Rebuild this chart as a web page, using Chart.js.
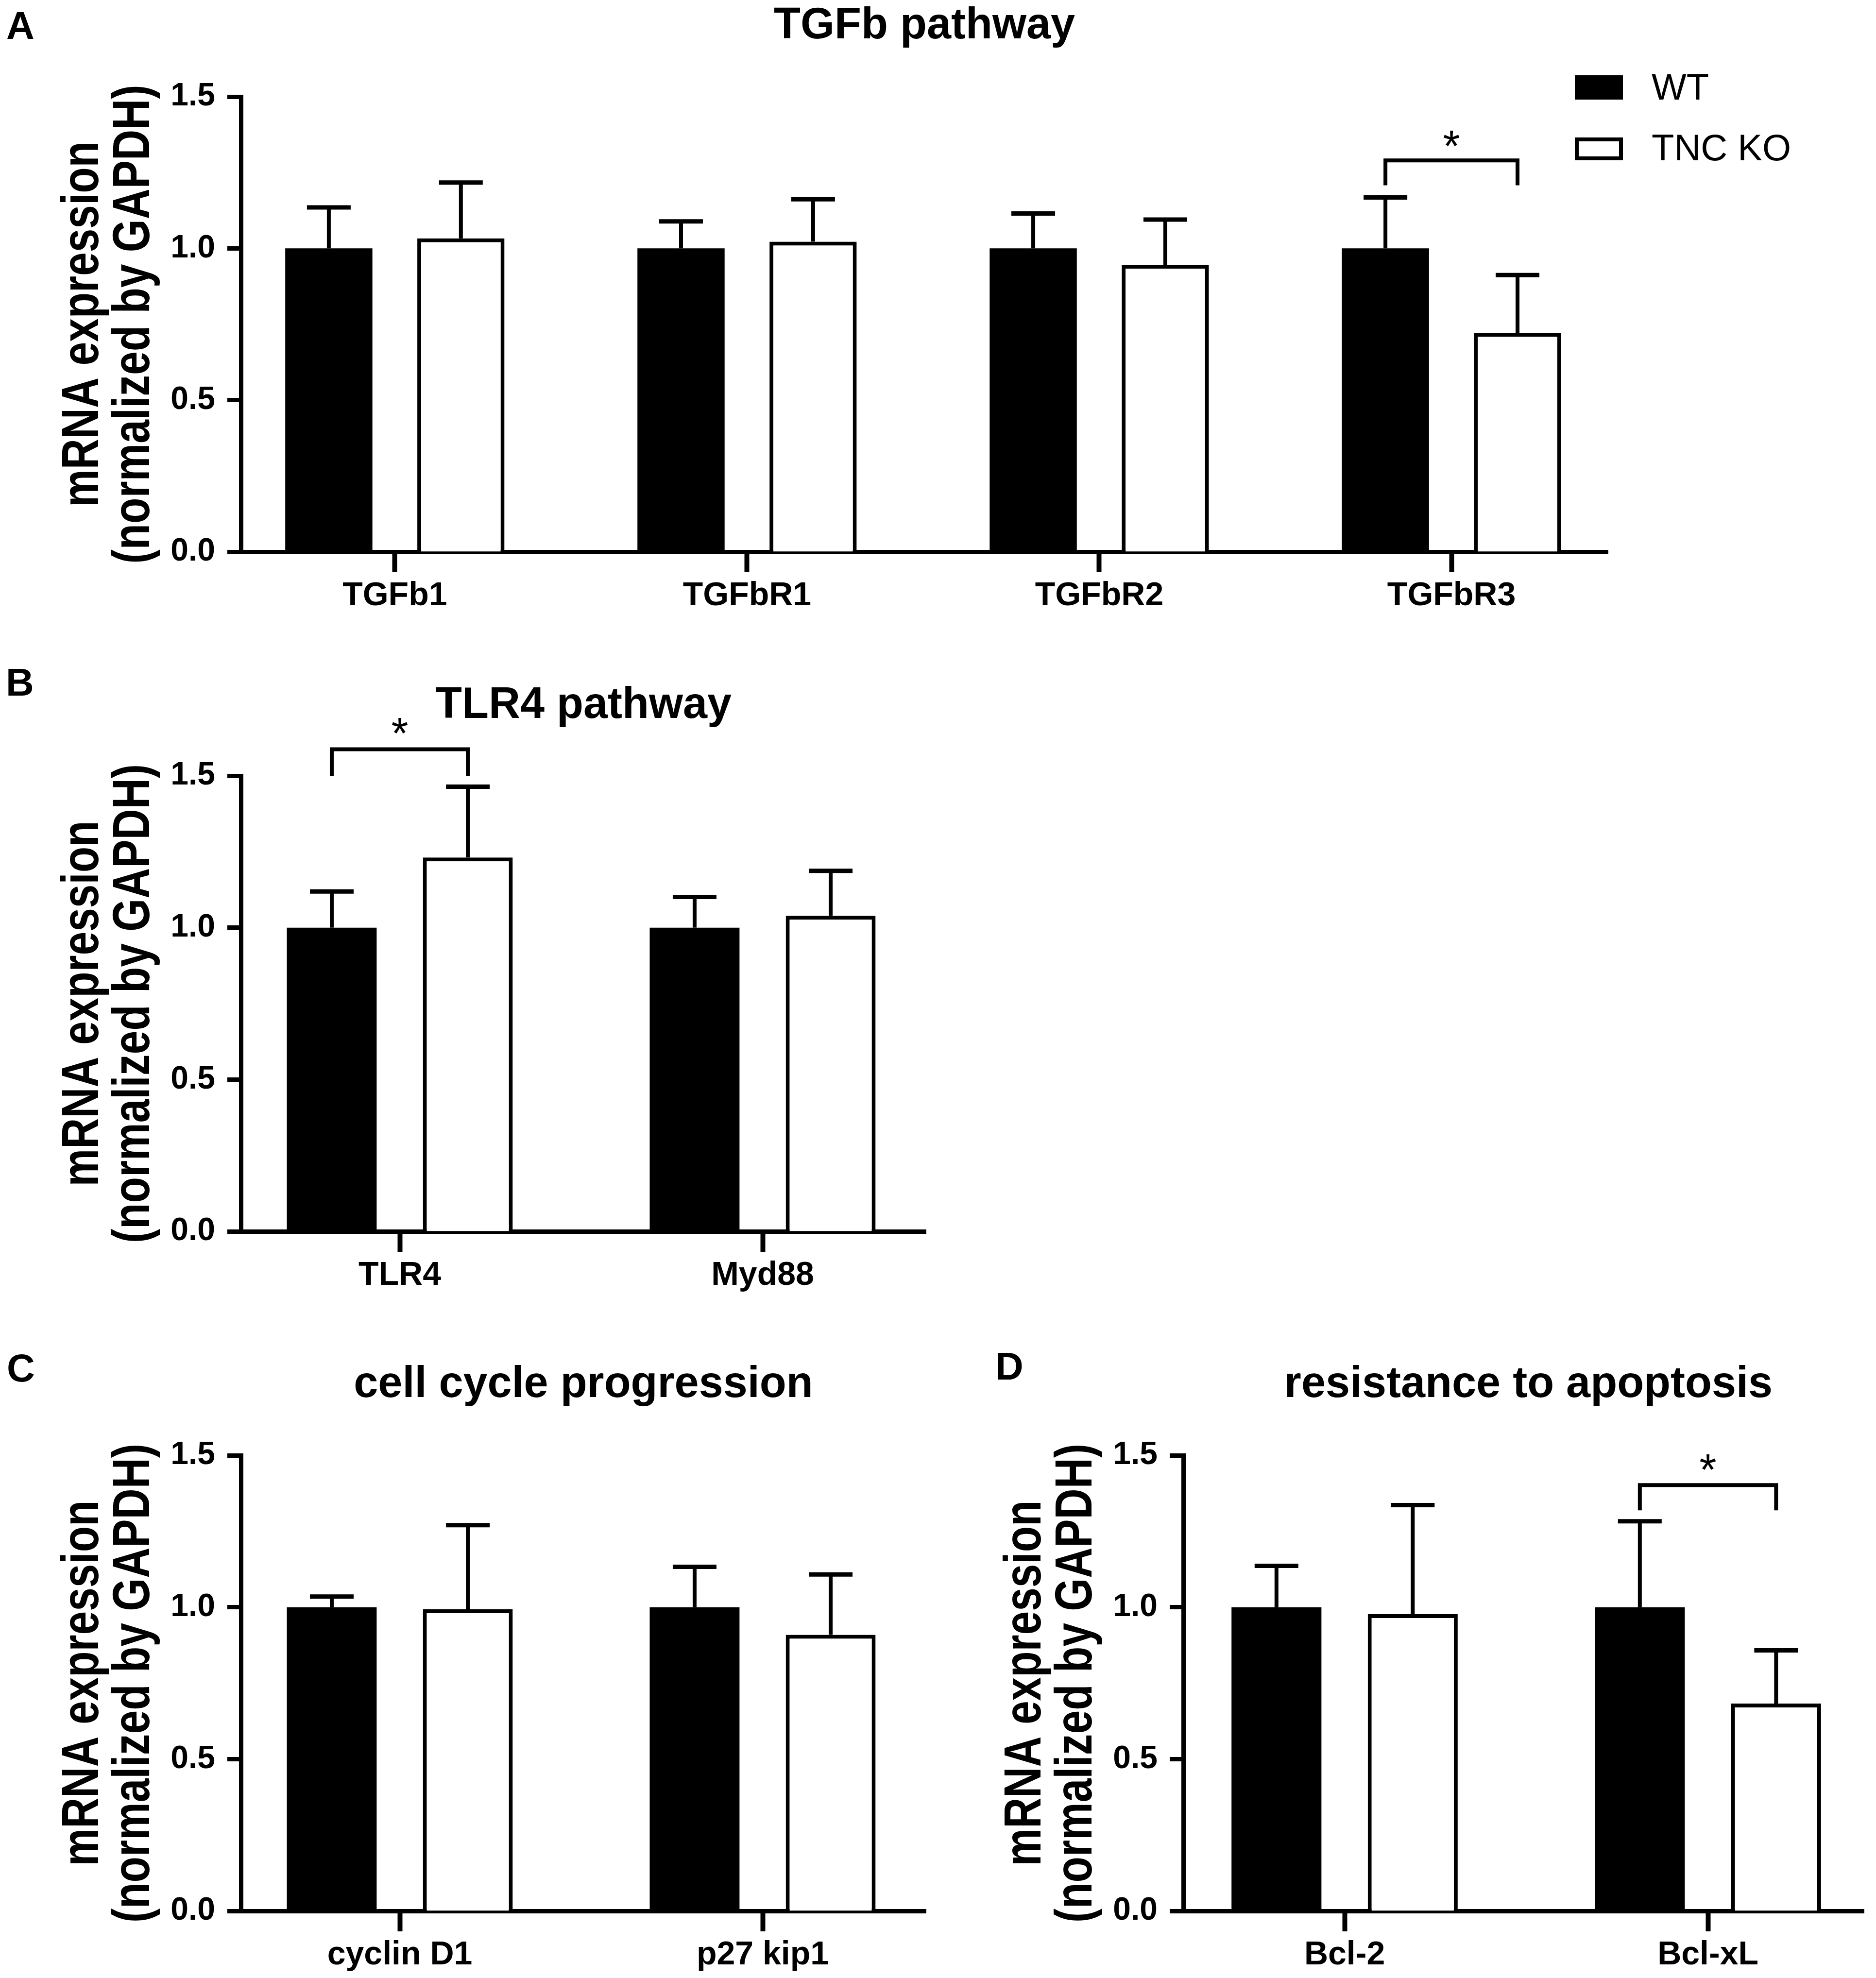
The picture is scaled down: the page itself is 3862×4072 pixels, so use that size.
<!DOCTYPE html>
<html>
<head>
<meta charset="utf-8">
<script src="https://cdn.jsdelivr.net/npm/chart.js@4.4.1/dist/chart.umd.min.js"></script>
<style>
  html, body { margin: 0; padding: 0; background: #fff; }
  #fig { position: relative; width: 3862px; height: 4072px; background: #fff; overflow: hidden; }
  #fig canvas { position: absolute; }
</style>
</head>
<body>
<div id="fig">
  <canvas id="cA" width="3862" height="1300" style="left:0;top:0;width:3862px;height:1300px"></canvas>
  <canvas id="cB" width="1931" height="1400" style="left:0;top:1300px;width:1931px;height:1400px"></canvas>
  <canvas id="cC" width="1931" height="1372" style="left:0;top:2700px;width:1931px;height:1372px"></canvas>
  <canvas id="cD" width="1931" height="1372" style="left:1931px;top:2700px;width:1931px;height:1372px"></canvas>
</div>
<script>
// ---------------- data ----------------
const seriesNames = ['WT', 'TNC KO'];
const yTitleLines = ['mRNA expression', '(normalized by GAPDH)'];
const yTickValues = [0, 0.5, 1.0, 1.5];

const tgfTitle = 'TGFb pathway';
const tgfCategories = ['TGFb1', 'TGFbR1', 'TGFbR2', 'TGFbR3'];
const tgfWT = [1.0, 1.0, 1.0, 1.0];
const tgfWTErr = [0.135, 0.089, 0.115, 0.168];
const tgfKO = [1.033, 1.022, 0.946, 0.721];
const tgfKOErr = [0.184, 0.140, 0.149, 0.191];

const tlrTitle = 'TLR4 pathway';
const tlrCategories = ['TLR4', 'Myd88'];
const tlrWT = [1.0, 1.0];
const tlrWTErr = [0.119, 0.101];
const tlrKO = [1.231, 1.039];
const tlrKOErr = [0.233, 0.148];

const cellTitle = 'cell cycle progression';
const cellCategories = ['cyclin D1', 'p27 kip1'];
const cellWT = [1.0, 1.0];
const cellWTErr = [0.035, 0.133];
const cellKO = [0.993, 0.909];
const cellKOErr = [0.277, 0.199];

const apoTitle = 'resistance to apoptosis';
const apoCategories = ['Bcl-2', 'Bcl-xL'];
const apoWT = [1.0, 1.0];
const apoWTErr = [0.136, 0.283];
const apoKO = [0.977, 0.683];
const apoKOErr = [0.359, 0.175];

// significance markers: category index, bracket top, bracket leg end, star centre (data units)
const tgfSig = [{ index: 3, top: 1.29, leg: 1.208, star: 1.367, text: '*' }];
const tlrSig = [{ index: 0, top: 1.587, leg: 1.50, star: 1.669, text: '*' }];
const cellSig = [];
const apoSig = [{ index: 1, top: 1.402, leg: 1.319, star: 1.483, text: '*' }];

// ---------------- fonts ----------------
const FONT = '"Liberation Sans", Arial, Helvetica, sans-serif';

// ---------------- plugin: error bars, brackets, titles, letters, legend, y title ----------------
const annotPlugin = {
  id: 'annot',
  afterDatasetsDraw(chart, args, o) {
    const ctx = chart.ctx, ys = chart.scales.y;
    ctx.save();
    ctx.strokeStyle = '#000';
    ctx.lineCap = 'butt';
    chart.data.datasets.forEach((ds, d) => {
      const meta = chart.getDatasetMeta(d);
      meta.data.forEach((el, i) => {
        const yt = ys.getPixelForValue(ds.data[i].y + ds.errors[i]);
        ctx.lineWidth = 8;
        ctx.beginPath(); ctx.moveTo(el.x, el.y); ctx.lineTo(el.x, yt); ctx.stroke();
        ctx.lineWidth = 9;
        ctx.beginPath(); ctx.moveTo(el.x - 45, yt); ctx.lineTo(el.x + 45, yt); ctx.stroke();
      });
    });
    ctx.restore();
  },
  afterDraw(chart, args, o) {
    const ctx = chart.ctx, ys = chart.scales.y, ca = chart.chartArea;
    ctx.save();
    ctx.fillStyle = '#000';
    ctx.strokeStyle = '#000';
    // panel title
    ctx.font = 'bold 90px ' + FONT;
    ctx.textAlign = 'center';
    ctx.textBaseline = 'alphabetic';
    ctx.fillText(o.title, (ca.left + ca.right) / 2 + (o.titleDx || 0), o.titleBaseline);
    // panel letter
    ctx.font = 'bold 80px ' + FONT;
    ctx.textAlign = 'left';
    ctx.fillText(o.letter, o.letterX, o.letterBaseline);
    // y axis title (condensed along the text direction, as in the figure)
    ctx.save();
    ctx.font = 'bold 108px ' + FONT;
    const target = 986;
    const sx = target / ctx.measureText(yTitleLines[1]).width;
    const yc = (ca.top + ca.bottom) / 2;
    const offs = [-324, -219];
    yTitleLines.forEach((t, k) => {
      ctx.save();
      ctx.translate(ca.left + offs[k], yc);
      ctx.rotate(-Math.PI / 2);
      ctx.scale(sx, 1);
      ctx.textAlign = 'center';
      ctx.textBaseline = 'middle';
      ctx.fillText(t, 0, 0);
      ctx.restore();
    });
    ctx.restore();
    // significance brackets
    (o.sig || []).forEach(s => {
      const x1 = chart.getDatasetMeta(0).data[s.index].x;
      const x2 = chart.getDatasetMeta(1).data[s.index].x;
      const yTop = ys.getPixelForValue(s.top), yLeg = ys.getPixelForValue(s.leg);
      ctx.lineWidth = 8;
      ctx.lineJoin = 'miter';
      ctx.beginPath();
      ctx.moveTo(x1, yLeg); ctx.lineTo(x1, yTop); ctx.lineTo(x2, yTop); ctx.lineTo(x2, yLeg);
      ctx.stroke();
      ctx.font = '90px ' + FONT;
      ctx.textAlign = 'center';
      ctx.textBaseline = 'alphabetic';
      ctx.fillText(s.text, (x1 + x2) / 2, ys.getPixelForValue(s.star) + 50);
    });
    // legend
    if (o.legend) {
      const items = [
        { y: 155, h: 50, baseline: 205 },
        { y: 283, h: 47, baseline: 330 }
      ];
      chart.data.datasets.forEach((ds, d) => {
        const it = items[d];
        const bw = ds.borderWidth || 0;
        ctx.fillStyle = ds.borderColor;
        ctx.fillRect(3242, it.y, 99, it.h);
        if (bw > 0) {
          ctx.fillStyle = ds.backgroundColor;
          ctx.fillRect(3242 + bw, it.y + bw, 99 - 2 * bw, it.h - 2 * bw);
        }
        ctx.fillStyle = '#000';
        ctx.font = '76px ' + FONT;
        ctx.textAlign = 'left';
        ctx.textBaseline = 'alphabetic';
        ctx.fillText(ds.label, 3400, it.baseline);
      });
    }
    ctx.restore();
  }
};

// ---------------- chart factory ----------------
function makeChart(id, cats, wt, wtErr, ko, koErr, L, annot) {
  return new Chart(document.getElementById(id), {
    type: 'bar',
    plugins: [annotPlugin],
    data: {
      datasets: [
        { label: seriesNames[0], data: wt.map((v, i) => ({ x: i, y: v })), errors: wtErr,
          backgroundColor: '#000000', borderColor: '#000000', borderWidth: 0,
          categoryPercentage: 0.75, barPercentage: 0.66 },
        { label: seriesNames[1], data: ko.map((v, i) => ({ x: i, y: v })), errors: koErr,
          backgroundColor: '#ffffff', borderColor: '#000000', borderWidth: 8,
          categoryPercentage: 0.75, barPercentage: 0.66 }
      ]
    },
    options: {
      responsive: false,
      animation: false,
      devicePixelRatio: 1,
      layout: { padding: { left: L.padLeft, right: L.padRight, top: L.padTop, bottom: 0 } },
      plugins: {
        legend: { display: false },
        tooltip: { enabled: false },
        annot: annot
      },
      scales: {
        x: {
          type: 'linear', position: 'bottom', min: L.xMin, max: L.xMax, offset: false,
          afterBuildTicks: s => { s.ticks = cats.map((_, i) => ({ value: i })); },
          afterFit: s => { s.height = L.xHeight; },
          ticks: {
            autoSkip: false, maxRotation: 0, minRotation: 0,
            callback: v => { const k = Math.round(v); return cats[k] !== undefined ? cats[k] : ''; },
            font: { family: FONT, size: 68, weight: 'bold' }, color: '#000', padding: 8
          },
          grid: { offset: false, drawOnChartArea: false, drawTicks: true, tickLength: 42, tickWidth: 10, tickColor: '#000', color: '#000' },
          border: { display: true, color: '#000', width: 9 }
        },
        y: {
          min: 0, max: 1.5,
          afterBuildTicks: s => { s.ticks = yTickValues.map(v => ({ value: v })); },
          afterFit: s => { s.width = L.yWidth; },
          ticks: {
            callback: v => Number(v).toFixed(1),
            font: { family: FONT, size: 66, weight: 'bold' }, color: '#000', padding: 25
          },
          grid: { drawOnChartArea: false, drawTicks: true, tickLength: 28, tickWidth: 9, tickColor: '#000', color: '#000' },
          border: { display: true, color: '#000', width: 9 },
          title: { display: false, text: yTitleLines }
        }
      }
    }
  });
}

makeChart('cA', tgfCategories, tgfWT, tgfWTErr, tgfKO, tgfKOErr,
  { padLeft: 0, padRight: 552, padTop: 199, yWidth: 496, xHeight: 164, xMin: -0.437, xMax: 3.444 },
  { title: tgfTitle, titleBaseline: 79, letter: 'A', letterX: 13, letterBaseline: 80, sig: tgfSig, legend: true });

makeChart('cB', tlrCategories, tlrWT, tlrWTErr, tlrKO, tlrKOErr,
  { padLeft: 0, padRight: 25, padTop: 297, yWidth: 496, xHeight: 165, xMin: -0.4378, xMax: 1.4498 },
  { title: tlrTitle, titleBaseline: 178, letter: 'B', letterX: 12, letterBaseline: 132, sig: tlrSig, legend: false });

makeChart('cC', cellCategories, cellWT, cellWTErr, cellKO, cellKOErr,
  { padLeft: 0, padRight: 25, padTop: 296, yWidth: 496, xHeight: 138, xMin: -0.4378, xMax: 1.4498 },
  { title: cellTitle, titleBaseline: 176, letter: 'C', letterX: 14, letterBaseline: 144, sig: cellSig, legend: false });

makeChart('cD', apoCategories, apoWT, apoWTErr, apoKO, apoKOErr,
  { padLeft: 10, padRight: 25, padTop: 296, yWidth: 495, xHeight: 138, xMin: -0.4439, xMax: 1.429 },
  { title: apoTitle, titleBaseline: 176, titleDx: 10, letter: 'D', letterX: 118, letterBaseline: 140, sig: apoSig, legend: false });
</script>
</body>
</html>
